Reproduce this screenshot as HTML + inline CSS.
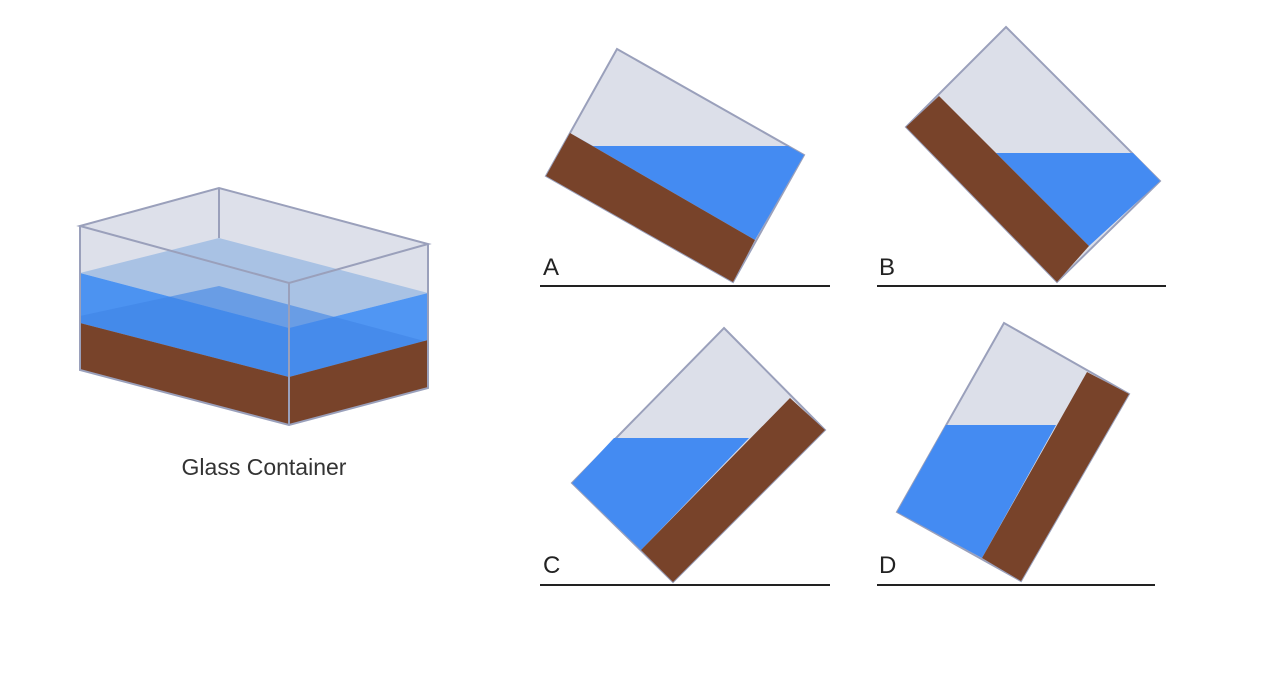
<!DOCTYPE html>
<html><head><style>body{margin:0;background:#fff}svg{display:block}</style></head><body>
<svg width="1276" height="680" viewBox="0 0 1276 680" xmlns="http://www.w3.org/2000/svg" font-family="Liberation Sans, sans-serif">
<!-- box -->
<polygon points="80,226 219,188 428,244 428,388 289,425 80,370" fill="#dde0ea"/>
<polygon points="80,273 219,238 428,293 289,328" fill="#a9c2e4"/>
<polygon points="80,273 289,328 289,377 80,323" fill="#4c93f1"/>
<polygon points="289,328 428,293 428,340 289,377" fill="#5096f3"/>
<polygon points="80,316 219,286 428,342 289,377 80,323" fill="#3f84e6" opacity="0.6"/>
<polygon points="80,323 289,377 289,425 80,370" fill="#78432a"/>
<polygon points="289,377 428,340 428,388 289,425" fill="#78432a"/>
<g fill="none" stroke="#9aa0bb" stroke-width="2">
<polygon points="80,226 219,188 428,244 289,283"/>
<line x1="219" y1="188" x2="219" y2="238"/>
<polyline points="80,226 80,370 289,425 428,388 428,244"/>
<line x1="289" y1="283" x2="289" y2="425"/>
</g>
<text x="264" y="475" font-size="23" text-anchor="middle" fill="#333">Glass Container</text>
<!-- A -->
<polygon points="617,49 804,155 733,282 546,176" fill="#dcdfe9" stroke="#9aa0bb" stroke-width="2"/>
<polygon points="593,146 788,146 804,155 755,240 570,133" fill="#448bf2"/>
<polygon points="570,133 755,240 733,282 546,176" fill="#78432a"/>
<line x1="540" y1="286" x2="830" y2="286" stroke="#222" stroke-width="2"/>
<text x="543" y="275" font-size="24" fill="#222">A</text>
<!-- B -->
<polygon points="1006,27 1160,181 1057,282 906,127" fill="#dcdfe9" stroke="#9aa0bb" stroke-width="2"/>
<polygon points="996,153 1133,153 1160,181 1089,246" fill="#448bf2"/>
<polygon points="939,96 1089,246 1057,282 906,127" fill="#78432a"/>
<line x1="877" y1="286" x2="1166" y2="286" stroke="#222" stroke-width="2"/>
<text x="879" y="275" font-size="24" fill="#222">B</text>
<!-- C -->
<polygon points="724,328 825,430 673,582 572,483" fill="#dcdfe9" stroke="#9aa0bb" stroke-width="2"/>
<polygon points="614,438 749,438 641,550 572,483" fill="#448bf2"/>
<polygon points="790,398 825,430 673,582 641,550" fill="#78432a"/>
<line x1="540" y1="585" x2="830" y2="585" stroke="#222" stroke-width="2"/>
<text x="543" y="573" font-size="24" fill="#222">C</text>
<!-- D -->
<polygon points="1004,323 1129,394 1021,581 897,512" fill="#dcdfe9" stroke="#9aa0bb" stroke-width="2"/>
<polygon points="946,425 1056,425 982,558 897,512" fill="#448bf2"/>
<polygon points="1087,372 1129,394 1021,581 982,558" fill="#78432a"/>
<line x1="877" y1="585" x2="1155" y2="585" stroke="#222" stroke-width="2"/>
<text x="879" y="573" font-size="24" fill="#222">D</text>
</svg>
</body></html>
